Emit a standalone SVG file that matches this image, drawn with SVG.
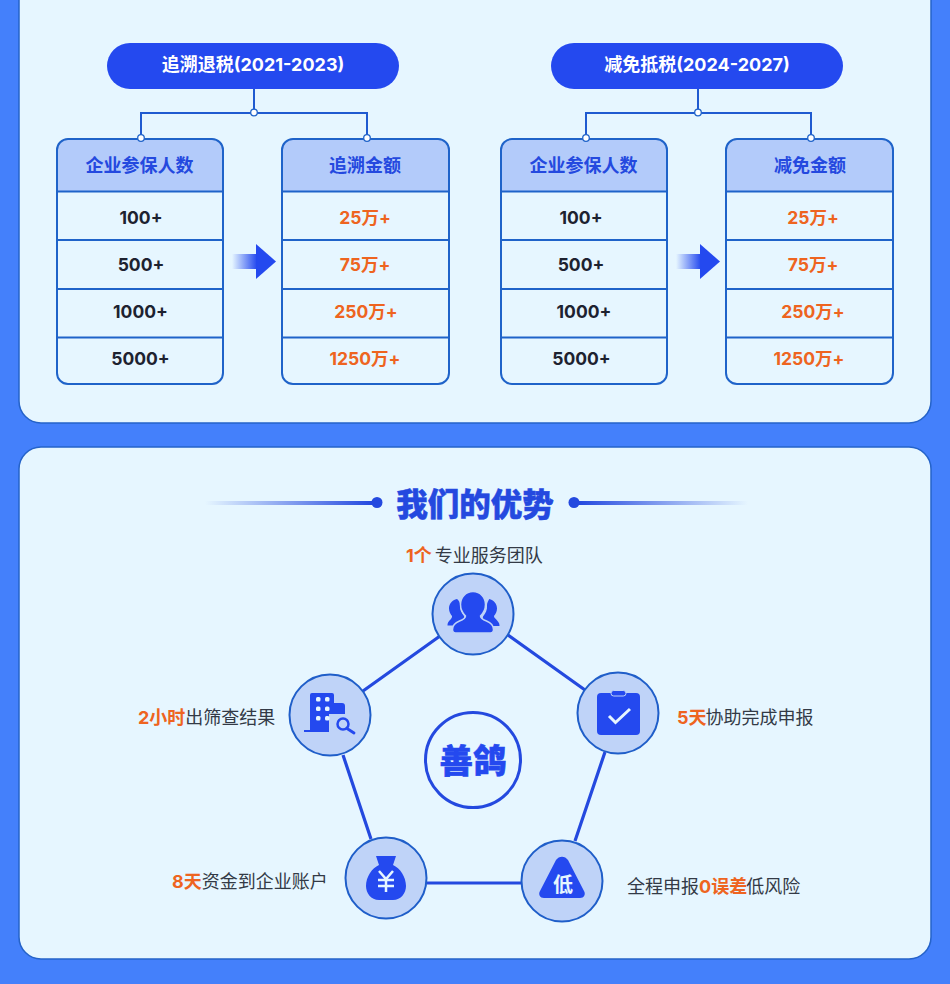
<svg xmlns="http://www.w3.org/2000/svg" width="950" height="984" viewBox="0 0 950 984">
<style>
text{font-family:Inter,"Noto Sans CJK SC","Noto Sans",sans-serif;text-anchor:middle}
.panel{fill:#e6f6ff;stroke:#2563c9;stroke-width:1.5}
.pill{fill:#2449ef}
.pt{fill:#fff;font-size:18px;font-weight:700}
.tb{fill:none;stroke:#1f63c9;stroke-width:2}
.hd{fill:#b3cbfa}
.sep{stroke:#1f63c9;stroke-width:2;fill:none}
.ht{fill:#2449df;font-size:18px;font-weight:700}
.k{fill:#1d2230;font-size:17.500px;font-weight:700}
.o{fill:#ee6420;font-size:17.500px;font-weight:700}
.cn{stroke:#1f5ad0;stroke-width:2;fill:none}
.dot{fill:#fff;stroke:#1f63c9;stroke-width:1.3}
.edge{stroke:#2449df;stroke-width:3.2;fill:none}
.nc{fill:#bfd3f8;stroke:#1f5ec9;stroke-width:2}
.ic{fill:#2449ef}
.lb{fill:#333a46;font-size:18px;text-anchor:start}
.em{fill:#ee6420;font-weight:700}
</style>
<defs>
<linearGradient id="ag"><stop offset="0" stop-color="#2449ef" stop-opacity="0"/><stop offset="1" stop-color="#2449ef"/></linearGradient>
<linearGradient id="tl"><stop offset="0" stop-color="#2449df" stop-opacity="0"/><stop offset="1" stop-color="#2449df"/></linearGradient>
<linearGradient id="tr"><stop offset="0" stop-color="#2449df"/><stop offset="1" stop-color="#2449df" stop-opacity="0"/></linearGradient>
</defs>
<rect width="950" height="984" fill="#4480fb"/>
<rect id="panel-top" class="panel" x="19" y="-30" width="912" height="453" rx="22"/>
<rect id="panel-bottom" class="panel" x="19" y="447" width="912" height="512" rx="22"/>

<g id="connectors">
<path class="cn" d="M254 89V113M141 138V113H367V138M698 89V113M586 138V113H811V138"/>
<path class="edge" d="M440 636L363 691M508 635L585 690M605 752L575 841M522 883H427M371 839L343 755"/>
</g>

<g id="pill-a"><rect class="pill" x="107" y="43" width="292" height="46" rx="23"/><text class="pt" x="253" y="71">追溯退税(2021-2023)</text></g>
<g id="pill-b"><rect class="pill" x="551" y="43" width="292" height="46" rx="23"/><text class="pt" x="697" y="71">减免抵税(2024-2027)</text></g>

<g id="table-a1">
<path class="hd" d="M57 191V149a10 10 0 0 1 10-10H213a10 10 0 0 1 10 10V191Z"/>
<rect class="tb" x="57" y="139" width="166" height="245" rx="11"/>
<path class="sep" d="M57 191.500H223M57 240H223M57 289H223M57 337.500H223"/>
<text class="ht" x="139.500" y="172">企业参保人数</text>
<text class="k" x="141" y="224">100+</text><text class="k" x="141" y="271">500+</text><text class="k" x="140.500" y="318">1000+</text><text class="k" x="140.500" y="365">5000+</text>
</g>
<g id="table-a2">
<path class="hd" d="M282 191V149a10 10 0 0 1 10-10H438a10 10 0 0 1 10 10V191Z"/>
<rect class="tb" x="282" y="139" width="167" height="245" rx="11"/>
<path class="sep" d="M282 191.500H449M282 240H449M282 289H449M282 337.500H449"/>
<text class="ht" x="365" y="172">追溯金额</text>
<text class="o" x="365" y="224">25万+</text><text class="o" x="365" y="271">75万+</text><text class="o" x="366" y="318">250万+</text><text class="o" x="365" y="365">1250万+</text>
</g>
<g id="table-b1">
<path class="hd" d="M501 191V149a10 10 0 0 1 10-10H657a10 10 0 0 1 10 10V191Z"/>
<rect class="tb" x="501" y="139" width="166" height="245" rx="11"/>
<path class="sep" d="M501 191.500H667M501 240H667M501 289H667M501 337.500H667"/>
<text class="ht" x="583.500" y="172">企业参保人数</text>
<text class="k" x="581" y="224">100+</text><text class="k" x="581" y="271">500+</text><text class="k" x="584" y="318">1000+</text><text class="k" x="581.500" y="365">5000+</text>
</g>
<g id="table-b2">
<path class="hd" d="M726 191V149a10 10 0 0 1 10-10H882a10 10 0 0 1 10 10V191Z"/>
<rect class="tb" x="726" y="139" width="167" height="245" rx="11"/>
<path class="sep" d="M726 191.500H893M726 240H893M726 289H893M726 337.500H893"/>
<text class="ht" x="810" y="172">减免金额</text>
<text class="o" x="813" y="224">25万+</text><text class="o" x="813" y="271">75万+</text><text class="o" x="813" y="318">250万+</text><text class="o" x="809" y="365">1250万+</text>
</g>

<g id="joints">
<circle class="dot" cx="254" cy="112.500" r="3.300"/><circle class="dot" cx="141" cy="138" r="3.300"/><circle class="dot" cx="367" cy="138" r="3.300"/>
<circle class="dot" cx="698" cy="112.500" r="3.300"/><circle class="dot" cx="586" cy="138" r="3.300"/><circle class="dot" cx="811" cy="138" r="3.300"/>
</g>

<g id="arrow-a"><rect x="232" y="254" width="25" height="15" fill="url(#ag)"/><path class="ic" d="M256 244L276 261.500L256 279Z"/></g>
<g id="arrow-b"><rect x="676" y="254" width="25" height="15" fill="url(#ag)"/><path class="ic" d="M700 244L720 261.500L700 279Z"/></g>

<g id="title">
<rect x="205" y="501" width="167" height="4" fill="url(#tl)"/><circle cx="377" cy="502.500" r="5.500" fill="#2449df"/>
<rect x="578" y="501" width="170" height="4" fill="url(#tr)"/><circle cx="574" cy="502.500" r="5.500" fill="#2449df"/>
<text x="475" y="516" font-size="31.500" font-weight="900" fill="#2449df" stroke="#2449df" stroke-width=".5">我们的优势</text>
</g>

<g id="node-center"><circle cx="473" cy="760" r="47.500" fill="#e6f6ff" stroke="#2449df" stroke-width="3"/><text x="473" y="773" font-size="33.500" font-weight="900" fill="#2449ef" stroke="#2449ef" stroke-width=".6">善鸽</text></g>

<g id="node-team">
<circle class="nc" cx="473" cy="614" r="40.500"/>
<path class="ic" d="M457 599c-5 1-8 5-8 9.500 0 3 1.500 5.500 3 7.500.3 1.500-1 3-2.500 4.500-1.500 1.500-2 3-2 5h9c1-2.500 3-4.500 6-6 1.500-1 2-2 1.500-3.500-2.500-3-4.500-7-4-11 .2-2.500-1.500-5-3-6ZM489 599c5 1 8 5 8 9.500 0 3-1.500 5.500-3 7.500-.3 1.500 2 3 3.500 5 1.500 1.500 2 3 2 5h-9c-1-2.500-3-4.500-6-6-1.500-1-2-2-1.500-3.500 2.500-3 4.500-7 4-11-.2-2.500 1.500-5 2-6Z"/>
<path class="ic" stroke="#bfd3f8" stroke-width="1.500" d="M473 591.500c7.500 0 12.500 6 12.500 13 0 5-2.500 9-5 11.500 0 2 2 3.500 6 5 5 2 7 4.500 7 8.500 0 2-1.500 3.500-3 3.500H455.500c-1.500 0-3-1.500-3-3.500 0-4 2-6.500 7-8.500 4-1.500 6-3 6-5-2.500-2.500-5-6.500-5-11.500C460.500 597.500 465.500 591.500 473 591.500Z"/>
<text class="lb" x="406" y="562"><tspan class="em">1个</tspan><tspan dx="3">专业服务团队</tspan></text>
</g>
<g id="node-declare">
<circle class="nc" cx="618" cy="713" r="40.500"/>
<rect class="ic" x="597" y="693" width="43" height="42" rx="4"/>
<rect class="ic" x="611" y="690.500" width="15" height="5.500" rx="2.700" stroke="#bfd3f8" stroke-width="1"/>
<path d="M609 716L615.500 722.500L630 709" fill="none" stroke="#e6f6ff" stroke-width="3"/>
<text class="lb" x="677" y="724"><tspan class="em">5天</tspan><tspan dx="-1">协助完成申报</tspan></text>
</g>
<g id="node-risk">
<circle class="nc" cx="562" cy="881" r="40.500"/>
<path class="ic" d="M556 860c3-4.500 9-4.500 12 0l16 31c2 3.500 0 7-4 7H544c-4 0-6-3.500-4-7Z"/>
<text x="563" y="892" font-size="20" font-weight="700" fill="#e6f6ff">低</text>
<text class="lb" x="627" y="893">全程申报<tspan class="em">0误差</tspan><tspan dx="-1">低风险</tspan></text>
</g>
<g id="node-money">
<circle class="nc" cx="386" cy="878" r="40.500"/>
<path class="ic" d="M376 856h20l-3 9c7 3 13 12 13 21 0 7-5 14-13 14H379c-8 0-13-7-13-14 0-9 6-18 13-21Z"/>
<path d="M379 871l7 8l7-8M378 880h16M378 886h16M386 879v13" fill="none" stroke="#e6f6ff" stroke-width="2.500"/>
<text class="lb" x="172" y="887.500"><tspan class="em">8天</tspan>资金到企业账户</text>
</g>
<g id="node-check">
<circle class="nc" cx="330" cy="715" r="40.500"/>
<path class="ic" d="M312 693h20a2 2 0 0 1 2 2v8h8a3 3 0 0 1 3 3v8h-16v18h-25v-2h6V695a2 2 0 0 1 2-2Z"/>
<rect x="316" y="697" width="4.500" height="4.500" rx="1.500" fill="#e6f6ff"/><rect x="325" y="697" width="4.500" height="4.500" rx="1.500" fill="#e6f6ff"/><rect x="316" y="706.500" width="4.500" height="4.500" rx="1.500" fill="#e6f6ff"/><rect x="325" y="706.500" width="4.500" height="4.500" rx="1.500" fill="#e6f6ff"/><rect x="316" y="716" width="4.500" height="4.500" rx="1.500" fill="#e6f6ff"/><rect x="325" y="716" width="4.500" height="4.500" rx="1.500" fill="#e6f6ff"/>
<circle cx="343" cy="724" r="9" fill="#bfd3f8"/>
<circle cx="343" cy="724" r="5.500" fill="none" stroke="#2449ef" stroke-width="2.500"/>
<path d="M347 728.500L354 733" stroke="#2449ef" stroke-width="2.800" stroke-linecap="round"/>
<text class="lb" x="138" y="724"><tspan class="em">2小时</tspan>出筛查结果</text>
</g>
</svg>
